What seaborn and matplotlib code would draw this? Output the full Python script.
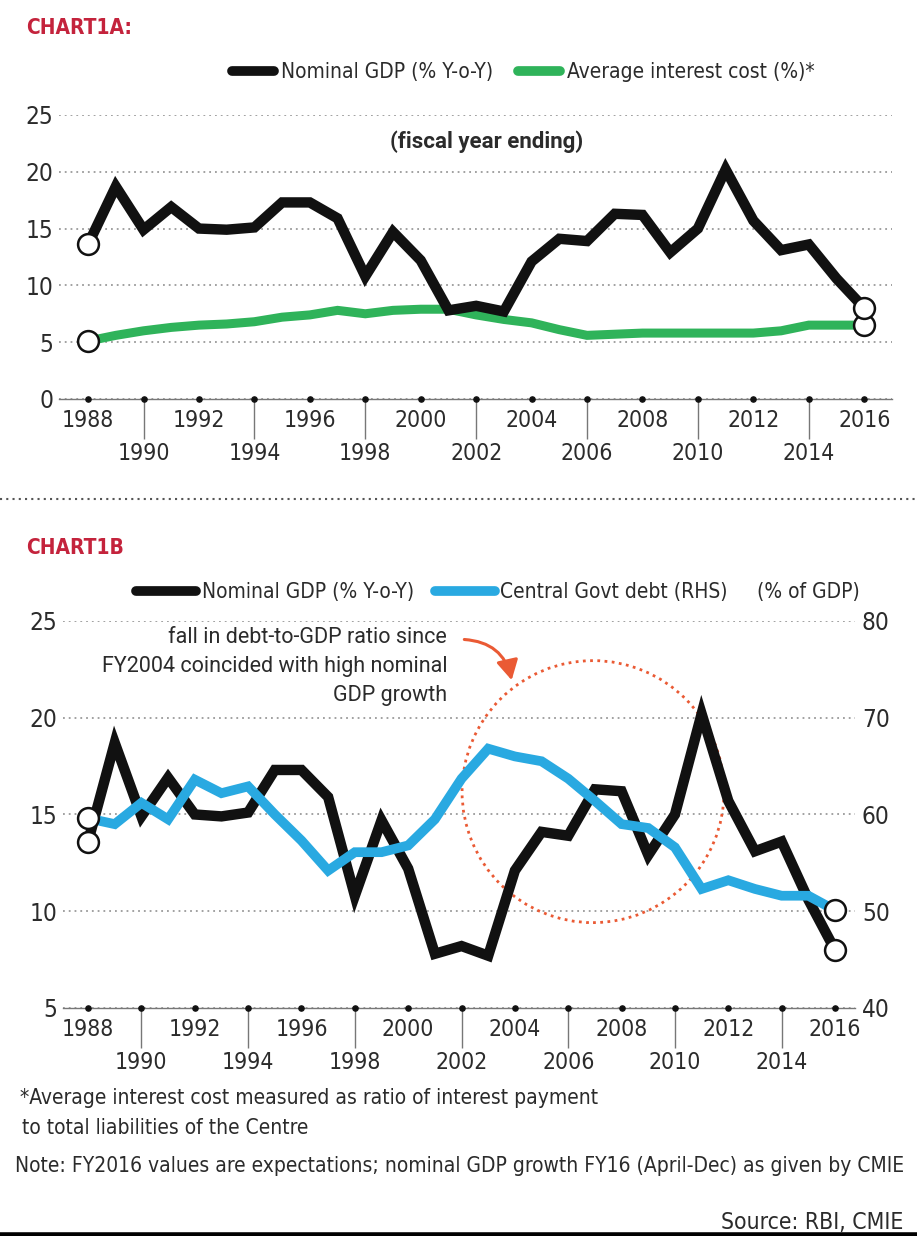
import matplotlib
matplotlib.use('Agg')
import matplotlib.pyplot as plt
from matplotlib.lines import Line2D
from matplotlib.patches import Ellipse
import seaborn as sns

# Data (fiscal year ending)
years = list(range(1988, 2017))
gdp_growth = [13.6, 18.7, 14.9, 16.9, 15.0, 14.9, 15.1, 17.3, 17.3, 15.9,
              10.8, 14.7, 12.2, 7.8, 8.2, 7.7, 12.1, 14.1, 13.9, 16.3,
              16.2, 12.9, 15.0, 20.2, 15.7, 13.1, 13.6, 10.6, 8.0]
interest_cost = [5.1, 5.6, 6.0, 6.3, 6.5, 6.6, 6.8, 7.2, 7.4, 7.8,
                 7.5, 7.8, 7.9, 7.9, 7.4, 7.0, 6.7, 6.1, 5.6, 5.7,
                 5.8, 5.8, 5.8, 5.8, 5.8, 6.0, 6.5, 6.5, 6.5]
govt_debt = [59.6, 59.0, 61.2, 59.5, 63.6, 62.2, 62.9, 60.0, 57.3, 54.2,
             56.1, 56.1, 56.8, 59.5, 63.7, 66.8, 66.0, 65.5, 63.7, 61.4,
             59.0, 58.6, 56.6, 52.3, 53.2, 52.3, 51.6, 51.6, 50.1]

upper_years = [1988, 1992, 1996, 2000, 2004, 2008, 2012, 2016]
lower_years = [1990, 1994, 1998, 2002, 2006, 2010, 2014]
top_yticks = [0, 5, 10, 15, 20, 25]
bot_yticks = [5, 10, 15, 20, 25]
debt_yticks = [40, 50, 60, 70, 80]

BLACK = '#111111'
GREEN = '#2fb35a'
BLUE = '#29a9e1'
RED = '#c4233c'
ORANGE = '#ea5a34'
TEXT = '#2b2b2b'

sns.set_theme(style='white')
plt.rcParams['font.family'] = ['DejaVu Sans']
plt.rcParams['font.stretch'] = 'condensed'
REG = ['Roboto', 'DejaVu Sans']
TICK_FS = 16.5

fig = plt.figure(figsize=(9.17, 12.36), dpi=100)
ax1 = fig.add_axes([0.0643, 0.6772, 0.9084, 0.2298])
ax2 = fig.add_axes([0.0687, 0.1845, 0.8637, 0.3131])


def style_axis(ax, base, yticks, ylim, xlim):
    ax.set_xlim(*xlim)
    ax.set_ylim(*ylim)
    for s in ['top', 'left', 'right']:
        ax.spines[s].set_visible(False)
    ax.spines['bottom'].set_color('#777777')
    ax.spines['bottom'].set_linewidth(1.0)
    ax.set_yticks(yticks)
    ax.set_yticklabels([str(v) for v in yticks])
    ax.tick_params(axis='y', length=0, pad=4, labelsize=TICK_FS + 1,
                   labelcolor=TEXT)
    ax.yaxis.grid(True, linestyle=(0, (1, 2.2)), color='#9a9a9a', linewidth=1.3)
    ax.xaxis.grid(False)
    ax.set_xticks(upper_years, labels=[str(y) for y in upper_years])
    ax.set_xticks(lower_years, labels=[str(y) for y in lower_years], minor=True)
    ax.tick_params(axis='x', which='major', length=0, pad=7,
                   labelsize=TICK_FS, labelcolor=TEXT)
    ax.tick_params(axis='x', which='minor', length=29, width=1.0,
                   color='#777777', pad=2, labelsize=TICK_FS, labelcolor=TEXT,
                   direction='out', bottom=True)
    ax.set_xlabel('')
    ax.set_ylabel('')
    dots = upper_years + lower_years
    ax.scatter(dots, [base] * len(dots), s=14, color=BLACK, zorder=6,
               clip_on=False)


def draw_series(ax, y, color, lw, z):
    last = len(years) - 1
    sns.lineplot(x=years, y=y, ax=ax, color=color, linewidth=lw,
                 marker='o', markevery=[0, last], markersize=15,
                 markerfacecolor='white', markeredgecolor=BLACK,
                 markeredgewidth=1.8, solid_joinstyle='miter',
                 solid_capstyle='butt', zorder=z, legend=False)


# ---- Chart 1A ----
draw_series(ax1, interest_cost, GREEN, 6.5, 3)
draw_series(ax1, gdp_growth, BLACK, 7.5, 4)
style_axis(ax1, 0, top_yticks, (0, 25), (1986.95, 2017.0))
ax1.text(0.513, 0.905, '(fiscal year ending)', transform=ax1.transAxes,
         ha='center', va='center', fontsize=16, fontweight='bold',
         family=REG, fontstretch='normal', color=TEXT)

fig.text(0.028, 0.977, 'CHART1A:', ha='left', va='center', fontsize=15,
         fontweight='bold', color=RED)

h1 = [Line2D([0], [0], color=BLACK, lw=7, solid_capstyle='round'),
      Line2D([0], [0], color=GREEN, lw=7, solid_capstyle='round')]
fig.legend(h1, ['Nominal GDP (% Y-o-Y)', 'Average interest cost (%)*'],
           loc='center', bbox_to_anchor=(0.571, 0.9415), ncol=2,
           frameon=False, fontsize=15, handlelength=2.0, handletextpad=0.35,
           columnspacing=1.2, labelcolor=TEXT)

# separator
fig.add_artist(Line2D([0.0, 1.0], [0.596, 0.596], transform=fig.transFigure,
                      color='#555555', lw=1.5, linestyle=(0, (1, 2))))

# ---- Chart 1B ----
draw_series(ax2, gdp_growth, BLACK, 7.5, 3)
style_axis(ax2, 5, bot_yticks, (5, 25), (1987.06, 2016.75))
ax2b = ax2.twinx()
draw_series(ax2b, govt_debt, BLUE, 7, 4)
ax2b.set_ylim(40, 80)
ax2b.set_yticks(debt_yticks)
ax2b.set_yticklabels([str(v) for v in debt_yticks])
ax2b.tick_params(axis='y', length=0, pad=5, labelsize=TICK_FS + 1,
                 labelcolor=TEXT)
ax2b.grid(False)
ax2b.set_ylabel('')
for s in ax2b.spines.values():
    s.set_visible(False)

ax2.add_patch(Ellipse((2006.93, 16.18), width=9.82, height=13.54, fill=False,
                      linestyle=(0, (1, 1.6)), edgecolor=ORANGE, linewidth=2,
                      zorder=2))
ax2.text(2001.46, 24.7, 'fall in debt-to-GDP ratio since\nFY2004 coincided with high nominal\nGDP growth',
         ha='right', va='top', fontsize=15.5, family=REG, fontstretch='normal',
         color=TEXT, linespacing=1.52)
ax2.annotate('', xy=(2003.9, 21.8), xytext=(2002.0, 24.05),
             arrowprops=dict(arrowstyle='-|>,head_length=1.0,head_width=0.55',
                             color=ORANGE, lw=2.2,
                             connectionstyle='arc3,rad=-0.4'))

fig.text(0.028, 0.557, 'CHART1B', ha='left', va='center', fontsize=15,
         fontweight='bold', color=RED)
h2 = [Line2D([0], [0], color=BLACK, lw=7, solid_capstyle='round'),
      Line2D([0], [0], color=BLUE, lw=7, solid_capstyle='round')]
fig.legend(h2, ['Nominal GDP (% Y-o-Y)', 'Central Govt debt (RHS)'],
           loc='center', bbox_to_anchor=(0.471, 0.521), ncol=2,
           frameon=False, fontsize=15, handlelength=2.9, handletextpad=0.25,
           columnspacing=1.0, labelcolor=TEXT)
fig.text(0.826, 0.521, '(% of GDP)', ha='left', va='center', fontsize=15,
         color=TEXT)

# ---- Footnotes ----
fig.text(0.022, 0.112, '*Average interest cost measured as ratio of interest payment',
         ha='left', va='center', fontsize=15, color=TEXT)
fig.text(0.024, 0.087, 'to total liabilities of the Centre',
         ha='left', va='center', fontsize=15, color=TEXT)
fig.text(0.016, 0.057, 'Note: FY2016 values are expectations; nominal GDP growth FY16 (April-Dec) as given by CMIE',
         ha='left', va='center', fontsize=15.0, color=TEXT)
fig.text(0.985, 0.011, 'Source: RBI, CMIE', ha='right', va='center',
         fontsize=16.5, color=TEXT)
fig.add_artist(Line2D([0.0, 1.0], [0.0012, 0.0012], transform=fig.transFigure,
                      color='black', lw=4))

fig.savefig('out.png', dpi=100)
